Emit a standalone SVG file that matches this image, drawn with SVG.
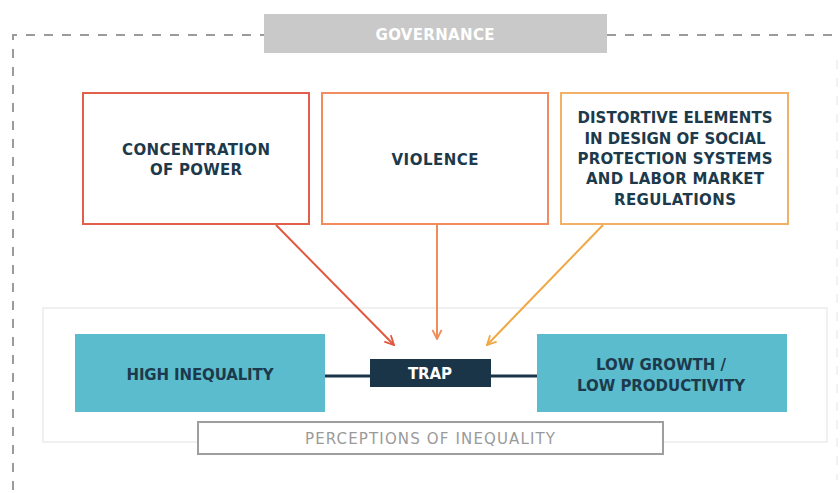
<svg xmlns="http://www.w3.org/2000/svg" width="840" height="493" viewBox="0 0 840 493">
<style>
.t{font-family:"DejaVu Sans","Liberation Sans",sans-serif;font-weight:bold;font-size:15px;fill:#1d3a4c;text-anchor:middle}
.w{fill:#ffffff}
.g{font-weight:normal;fill:#9a9a9a}
.dash{fill:none;stroke:#9b9b9b;stroke-width:2;stroke-dasharray:9 9}
.teal{fill:#5bbccd}
</style>
<defs>
<marker id="aR" viewBox="0 0 12 12" refX="11" refY="6" markerWidth="11" markerHeight="11" markerUnits="userSpaceOnUse" orient="auto"><path d="M1,1 L11,6 L1,11" fill="none" stroke="#e2583f" stroke-width="2"/></marker>
<marker id="aO" viewBox="0 0 12 12" refX="11" refY="6" markerWidth="11" markerHeight="11" markerUnits="userSpaceOnUse" orient="auto"><path d="M1,1 L11,6 L1,11" fill="none" stroke="#f08c5a" stroke-width="2"/></marker>
<marker id="aY" viewBox="0 0 12 12" refX="11" refY="6" markerWidth="11" markerHeight="11" markerUnits="userSpaceOnUse" orient="auto"><path d="M1,1 L11,6 L1,11" fill="none" stroke="#f0a845" stroke-width="2"/></marker>
</defs>
<rect width="840" height="493" fill="#ffffff"/>
<g id="governance-frame">
<path class="dash" d="M13,490 L13,35 L264,35"/>
<path class="dash" d="M607,35 L840,35"/>
<path d="M837,60 L837,480" fill="none" stroke="#eeeeee" stroke-width="1.5" stroke-dasharray="9 9"/>
</g>
<g id="governance">
<rect x="264" y="14" width="343" height="39" fill="#c9c9c9"/>
<text class="t w" x="435" y="40" font-size="13" textLength="119">GOVERNANCE</text>
</g>
<g id="panel">
<rect x="43" y="308" width="784" height="134" fill="#ffffff" stroke="#ececec" stroke-width="1.5"/>
</g>
<g id="concentration">
<rect x="83" y="93" width="226" height="131" fill="#ffffff" stroke="#e2604b" stroke-width="2"/>
<text class="t" x="196" y="155" textLength="148">CONCENTRATION</text>
<text class="t" x="196" y="175" textLength="92">OF POWER</text>
</g>
<g id="violence">
<rect x="322" y="93" width="226" height="131" fill="#ffffff" stroke="#f28c5e" stroke-width="2"/>
<text class="t" x="435" y="165" textLength="87">VIOLENCE</text>
</g>
<g id="distortive">
<rect x="561" y="93" width="227" height="131" fill="#ffffff" stroke="#f2b266" stroke-width="2"/>
<text class="t" x="675" y="123" textLength="195">DISTORTIVE ELEMENTS</text>
<text class="t" x="675" y="144" textLength="181">IN DESIGN OF SOCIAL</text>
<text class="t" x="675" y="164" textLength="195">PROTECTION SYSTEMS</text>
<text class="t" x="675" y="184" textLength="178">AND LABOR MARKET</text>
<text class="t" x="675" y="205" textLength="122">REGULATIONS</text>
</g>
<g id="connectors">
<line x1="276" y1="225" x2="394" y2="345" stroke="#e2583f" stroke-width="2" marker-end="url(#aR)"/>
<line x1="437" y1="225" x2="437" y2="339" stroke="#f08c5a" stroke-width="2" marker-end="url(#aO)"/>
<line x1="603" y1="225" x2="487" y2="345" stroke="#f0a845" stroke-width="2" marker-end="url(#aY)"/>
<line x1="325" y1="376" x2="370" y2="376" stroke="#1b3548" stroke-width="3"/>
<line x1="491" y1="376" x2="537" y2="376" stroke="#1b3548" stroke-width="3"/>
</g>
<g id="high-inequality">
<rect class="teal" x="75" y="334" width="250" height="78"/>
<text class="t" x="200" y="380" textLength="147">HIGH INEQUALITY</text>
</g>
<g id="trap">
<rect x="370" y="359" width="121" height="28" fill="#1b3548"/>
<text class="t w" x="430" y="379" textLength="44">TRAP</text>
</g>
<g id="low-growth">
<rect class="teal" x="537" y="334" width="250" height="78"/>
<text class="t" x="661" y="370" textLength="130">LOW GROWTH /</text>
<text class="t" x="661" y="391" textLength="168">LOW PRODUCTIVITY</text>
</g>
<g id="perceptions">
<rect x="198" y="422" width="465" height="32" fill="#ffffff" stroke="#9e9e9e" stroke-width="2"/>
<text class="t g" x="430" y="444" font-size="14" textLength="250">PERCEPTIONS OF INEQUALITY</text>
</g>
</svg>
